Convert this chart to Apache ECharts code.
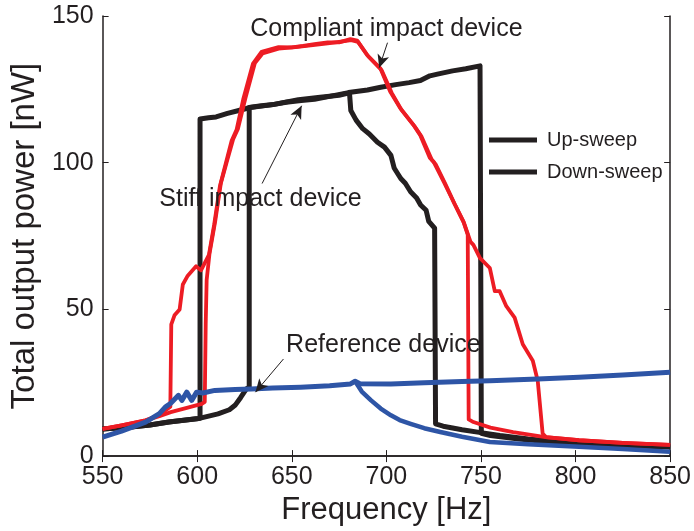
<!DOCTYPE html>
<html>
<head>
<meta charset="utf-8">
<script src="https://cdn.jsdelivr.net/npm/echarts@6/dist/echarts.min.js"></script>
<style>
  html, body { margin: 0; padding: 0; background: #fff; }
  #chart { width: 694px; height: 531px; }
</style>
</head>
<body>
<div id="chart"></div>
<script>
// frequency [Hz], power [nW]
var stiffUp = [[550,9.2],[565,9.9],[575,10.6],[585,11.6],[600,12.7],[611,14.4],[617,15.8],[620,17.3],[623,20],[626,22.9],[627.5,23.5],
  [627.5,118.8],[633,119.3],[640,119.8],[647,120.6],[655,121.2],[662,121.6],[670,122.6],[680,123.9],[690,124.8],[697,125.7],[705,126.6],
  [712,127.3],[718,128],[723,129.6],[727,130.2],[735,131.3],[742,132],[749.5,133],[750.2,7.8],[755,7],[770,5.8],[790,4.6],[810,4],[830,3.5],[850,3.1]];
var stiffDown = [[550,9.2],[565,9.9],[575,10.6],[585,11.6],[601.5,12.9],[601.5,114.9],[606,115.3],[610,115.6],[616,116.8],[622,117.8],[628,118.8],
  [640,119.8],[653.5,121.5],[665,122.3],[675,123],[680.5,123.8],[681.2,117.8],[684,114.5],[687.5,111.6],[691,109.8],[695.3,107],[699,105.3],
  [702.4,102.5],[704.1,98.2],[707.6,94.6],[710,93],[712.8,90.1],[716,88],[718.1,85.6],[721,83.8],[722.4,80],[725.5,77.7],[726,11],
  [730,10.2],[740,9],[750,8],[760,7],[775,5.8],[800,4.4],[825,3.7],[850,3.2]];
var compliantUp = [[550,9.3],[560,10.5],[572.7,12.2],[580,13.6],[586,15],[595,16.5],[602.4,17.8],[604,18.5],[604.5,45],[605,60],[606.5,69],
  [609.5,80],[612.5,93],[615.5,100],[619,108],[621.5,111.5],[625.5,122],[630.5,134],[634.5,137.2],[643,138.9],[652,139.4],[660,140],
  [669,140.7],[676,141.3],[681.4,141.8],[685,141.2],[690.5,136.2],[697.5,131.5],[702.8,123.8],[708,118],[715,112.3],[718.5,109],[724,101],
  [726,99.5],[731,93],[736,86],[741,79.5],[744.5,73],[746,72],[749.5,67.5],[754.7,64.1],[757.3,56.2],[759.9,56.2],[763.4,51.1],[767.8,47.2],
  [772.1,38.1],[777.4,32.5],[780,25.7],[782.6,7.7],[784.4,6.5],[801.8,5.4],[825,4.5],[850,3.8]];
var compliantDown = [[550,9.3],[560,10.5],[572.7,12.2],[580,14],[585.8,16.8],[586.3,44.9],[588,48],[590.7,50],[592.4,58.5],[595,61.5],
  [599.4,64.7],[602,63.3],[606.2,68.6],[609,79],[612,92],[615,99.5],[618.2,107.5],[620.8,111.2],[624.3,121.5],[629.5,133.8],[634,137.8],
  [643,139.4],[650,139.3],[656,139.8],[662,140.4],[669,141],[675,141],[681,142.1],[684.6,141.6],[689.8,136.7],[696.8,132.2],[702,124.3],
  [707.3,118.6],[714.2,113],[717.8,109.5],[723,101.6],[725,100.3],[730.3,93.5],[735.5,86.7],[740.7,80],[743,75.5],[743.5,12.5],[746,11.6],
  [755,9.7],[767,8.2],[784,6.5],[801.8,5.4],[825,4.5],[850,3.8]];
var referenceUp = [[550,6.5],[560,8.5],[572.7,11.6],[580,14.5],[583.1,16.7],[586,18],[590.1,20.7],[591.9,19],[594.5,21.8],[597.1,19],
  [599.7,21.8],[603,21.5],[609.3,22.4],[620,22.7],[628.5,22.9],[640,23.2],[654.7,23.5],[670,24],[681,24.6],[683.5,25.5],[686,24.7],
  [702.4,24.6],[720,25],[740,25.4],[754.7,25.7],[780,26.3],[801.8,26.9],[825,27.6],[850,28.6]];
var referenceDown = [[683.5,25.5],[687,22],[691.9,19],[697,16.2],[702.4,13.9],[707,12.3],[712.8,11],[720,9.5],[728.5,8.2],[740,6.6],
  [754.7,4.8],[775,4],[801.8,3.2],[825,2.4],[850,1.5]];

// annotations (data coordinates)
var noteTexts = ['Compliant impact device', 'Stiff impact device', 'Reference device'];
var noteAt = [[700, 145.5], [633.5, 87.6], [698.4, 37.8]];
var arrowFrom = [[700.6, 140.9], [634.3, 92.9], [645.6, 33.1]];
var arrowTo = [[696.2, 132.4], [655.2, 119.4], [630.8, 21.8]];

var ink = '#231f20';
var red = '#ed1c24';
var blue = '#2e55a6';
var font = 'Liberation Sans';

var chart = echarts.init(document.getElementById('chart'), null, { renderer: 'canvas' });

function line(name, data, color, width) {
  return {
    name: name,
    type: 'line',
    data: data,
    symbol: 'none',
    lineStyle: { color: color, width: width, join: 'round' },
    itemStyle: { color: color },
    z: 2
  };
}

var frameAxis = {
  axisLine: { show: true, lineStyle: { color: ink, width: 1.5 } },
  axisTick: { show: true, inside: true, length: 6, lineStyle: { color: ink, width: 1 } },
  splitLine: { show: false }
};

var series = [
  line('Up-sweep', stiffUp, ink, 5),
  line('Down-sweep', stiffDown, ink, 5),
  line('Compliant up-sweep', compliantUp, red, 3.8),
  line('Compliant down-sweep', compliantDown, red, 3.8),
  line('Reference up-sweep', referenceUp, blue, 5),
  line('Reference down-sweep', referenceDown, blue, 4.5)
];

// arrows for the annotations
series.push({
  name: 'notes',
  type: 'line',
  data: [],
  markLine: {
    silent: true,
    symbol: ['none', 'arrow'],
    symbolSize: [9, 13],
    label: { show: false },
    lineStyle: { color: ink, width: 1, type: 'solid' },
    data: arrowFrom.map(function (p, i) {
      return [{ coord: p }, { coord: arrowTo[i] }];
    })
  }
});

chart.setOption({
  animation: false,
  backgroundColor: '#fff',
  textStyle: { fontFamily: font, color: ink },
  grid: { left: 99, right: 22, top: 16, bottom: 72 },
  legend: {
    data: ['Up-sweep', 'Down-sweep'],
    orient: 'vertical',
    left: 489,
    top: 129,
    padding: 0,
    icon: 'rect',
    itemWidth: 48,
    itemHeight: 5,
    itemGap: 10,
    textStyle: { fontFamily: font, fontSize: 20, color: ink, lineHeight: 22, padding: [0, 0, 0, 5] }
  },
  xAxis: [
    Object.assign({
      type: 'value', min: 550, max: 850, interval: 50,
      name: 'Frequency [Hz]', nameLocation: 'middle', nameGap: 38,
      nameTextStyle: { fontFamily: font, fontSize: 31, color: ink },
      axisLabel: { fontFamily: font, fontSize: 25, color: ink, margin: 9 }
    }, frameAxis),
    Object.assign({
      type: 'value', min: 550, max: 850, interval: 50, position: 'top',
      axisLabel: { show: false }
    }, frameAxis)
  ],
  yAxis: [
    Object.assign({
      type: 'value', min: 0, max: 150, interval: 50,
      name: 'Total output power [nW]', nameLocation: 'middle', nameGap: 52,
      nameTextStyle: { fontFamily: font, fontSize: 33, color: ink },
      axisLabel: { fontFamily: font, fontSize: 25, color: ink, margin: 9 }
    }, frameAxis),
    Object.assign({
      type: 'value', min: 0, max: 150, interval: 50, position: 'right',
      axisLabel: { show: false }
    }, frameAxis)
  ],
  series: series
});

chart.setOption({
  graphic: noteTexts.map(function (t, i) {
    var p = chart.convertToPixel({ xAxisIndex: 0, yAxisIndex: 0 }, noteAt[i]);
    return {
      type: 'text',
      x: p[0],
      y: p[1],
      z: 10,
      style: {
        text: t,
        fontFamily: font,
        fontSize: 25,
        fill: ink,
        align: 'center',
        verticalAlign: 'middle'
      }
    };
  })
});
</script>
</body>
</html>
